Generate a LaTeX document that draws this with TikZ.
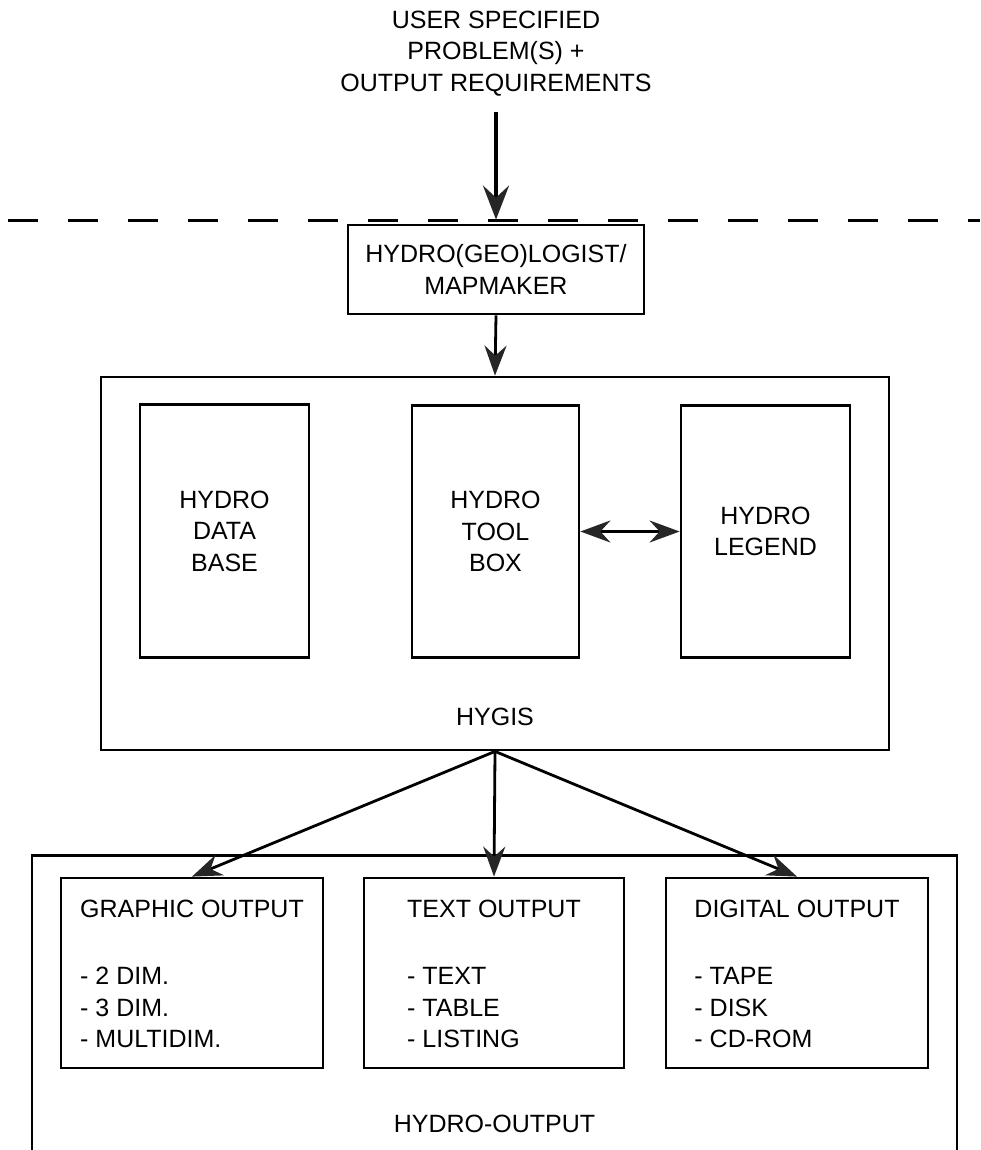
\documentclass[tikz,border=0pt]{standalone}
\usepackage{fontspec}
\setmainfont{Liberation Sans}
\usetikzlibrary{arrows.meta}
\begin{document}
\begin{tikzpicture}[x=1pt,y=-1pt,
  txt/.style={font=\fontsize{25}{31.5}\selectfont, align=center, inner sep=0pt},
  box/.style={draw, line width=2.8pt, inner sep=0pt},
  tip/.style={-{Stealth[length=30pt,width=22pt,inset=10pt,color=black!85]}},
  conn/.style={line width=2.8pt, tip},
]
\clip (0,0) rectangle (980,1150);
\fill[white] (0,0) rectangle (980,1150);

% top input text
\node[txt] (usr) at (496,53.5) {USER SPECIFIED\\PROBLEM(S) +\\OUTPUT REQUIREMENTS};

% dashed boundary
\draw[line width=3pt, dash pattern=on 30pt off 30pt] (8,221) -- (980,221);

% mapmaker
\node[box, txt, minimum width=296pt, minimum height=89pt] (map) at (496,269.5) {HYDRO(GEO)LOGIST/\\MAPMAKER};

\draw[line width=4pt, shorten <=16pt, shorten >=4pt,
  -{Stealth[length=34pt,width=26pt,inset=12pt,color=black!85]}] (usr.south) -- (map.north);

% HYGIS
\node[box, minimum width=788pt, minimum height=373pt] (hygis) at (495,563.5) {};
\node[txt] (hygisl) at ([yshift=35pt]hygis.south) {HYGIS};
\node[box, txt, minimum width=169pt, minimum height=253pt] (db) at (224.5,531) {HYDRO\\DATA\\BASE};
\node[box, txt, minimum width=167pt, minimum height=252pt] (tool) at (495.5,531.5) {HYDRO\\TOOL\\BOX};
\node[box, txt, minimum width=169pt, minimum height=252pt] (leg) at (765.5,531.5) {HYDRO\\LEGEND};

\draw[line width=2.8pt, {Stealth[length=30pt,width=22pt,inset=10pt,color=black!85]}-{Stealth[length=30pt,width=22pt,inset=10pt,color=black!85]}] (tool) -- (leg);

\draw[conn] (map.south) -- (hygis.north);

% HYDRO-OUTPUT
\node[box, minimum width=925pt, minimum height=400pt, anchor=north] (outb) at (494.5,854) {};
\node[txt] (outl) at ([yshift=-270pt]outb.north) {HYDRO-OUTPUT};

\node[box, minimum width=262pt, minimum height=190pt] (gbox) at (192,973) {};
\node[box, minimum width=260pt, minimum height=190pt] (tbox) at (494,973) {};
\node[box, minimum width=262pt, minimum height=190pt] (dbox) at (797,973) {};

\node[txt, align=left, anchor=north] (gtext) at ([yshift=-23pt]gbox.north) {GRAPHIC OUTPUT\\[36pt]- 2 DIM.\\- 3 DIM.\\- MULTIDIM.};
\node[txt, align=left, anchor=north] (ttext) at ([yshift=-23pt]tbox.north) {TEXT OUTPUT\\[36pt]- TEXT\\- TABLE\\- LISTING};
\node[txt, align=left, anchor=north] (dtext) at ([yshift=-23pt]dbox.north) {DIGITAL OUTPUT\\[36pt]- TAPE\\- DISK\\- CD-ROM};

\draw[conn] (hygis.south) -- (gbox.north);
\draw[conn] (hygis.south) -- (tbox.north);
\draw[conn] (hygis.south) -- (dbox.north);
\end{tikzpicture}
\end{document}
